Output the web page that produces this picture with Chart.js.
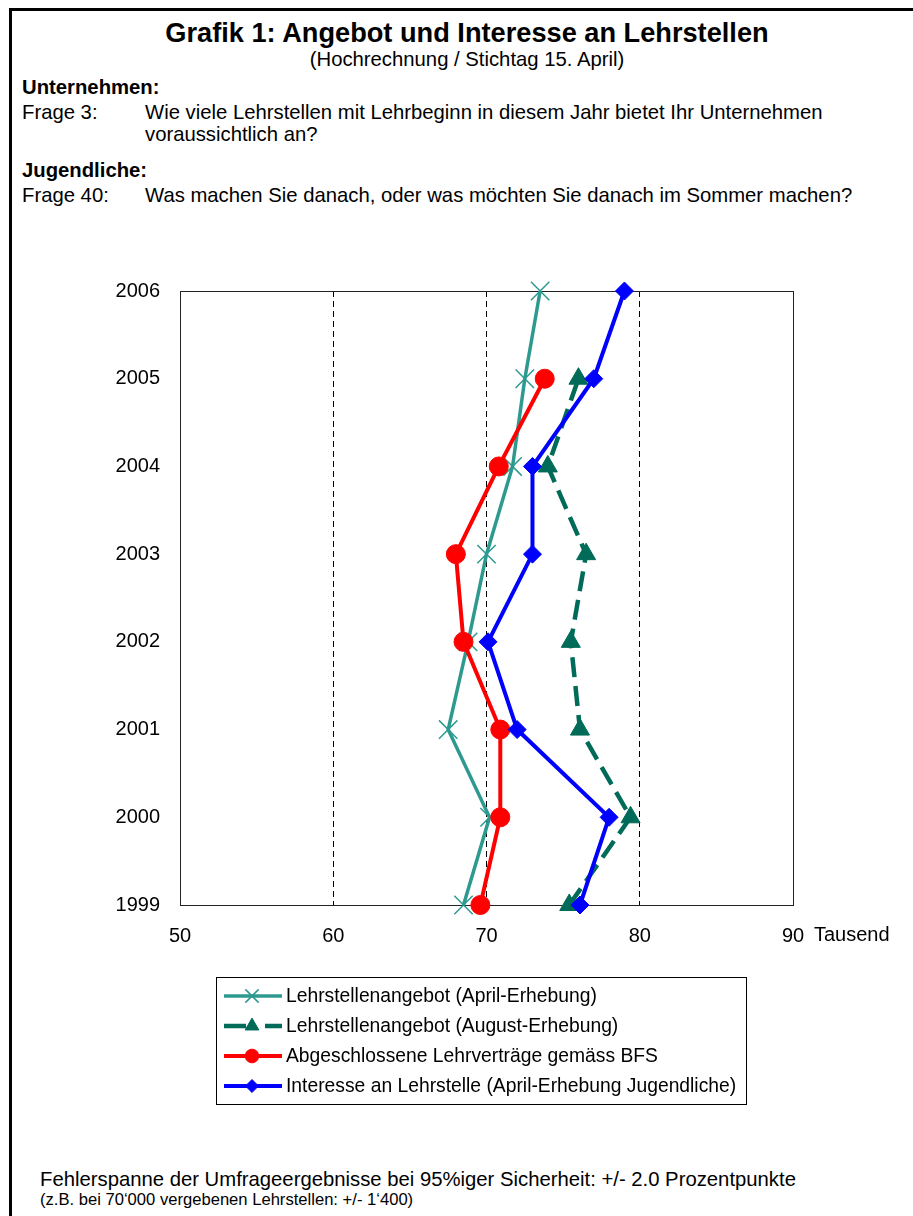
<!DOCTYPE html>
<html><head><meta charset="utf-8">
<script src="https://cdn.jsdelivr.net/npm/chart.js@4/dist/chart.umd.min.js"></script>
<style>
body{margin:0;width:913px;height:1216px;background:#fff;position:relative;overflow:hidden;font-family:"Liberation Sans",Arial,sans-serif;color:#000}
.t{position:absolute;white-space:nowrap;line-height:1.15}
#wrap{position:absolute;left:0;top:250px;width:913px;height:880px}
</style></head><body>
<div style="position:absolute;left:9px;top:8px;width:1000px;height:1300px;border-top:3px solid #000;border-left:3px solid #000"></div>
<div class="t" style="left:10px;width:914px;text-align:center;top:17px;font-size:27.2px;font-weight:bold">Grafik 1: Angebot und Interesse an Lehrstellen</div>
<div class="t" style="left:10px;width:914px;text-align:center;top:48px;font-size:20.3px">(Hochrechnung / Stichtag 15. April)</div>
<div class="t" style="left:22px;top:76px;font-size:20.3px;font-weight:bold">Unternehmen:</div>
<div class="t" style="left:22px;top:101px;font-size:20.3px">Frage 3:</div>
<div class="t" style="left:145px;top:101px;font-size:20.3px">Wie viele Lehrstellen mit Lehrbeginn in diesem Jahr bietet Ihr Unternehmen</div>
<div class="t" style="left:145px;top:123px;font-size:20.3px">voraussichtlich an?</div>
<div class="t" style="left:22px;top:159px;font-size:20.3px;font-weight:bold">Jugendliche:</div>
<div class="t" style="left:22px;top:184px;font-size:20.3px">Frage 40:</div>
<div class="t" style="left:145px;top:184px;font-size:20.3px">Was machen Sie danach, oder was möchten Sie danach im Sommer machen?</div>
<div id="wrap"><canvas id="c" width="913" height="880"></canvas></div>
<div class="t" id="unit" style="left:814px;top:923px;font-size:20px"></div>
<div class="t" style="left:40px;top:1168px;font-size:20.3px">Fehlerspanne der Umfrageergebnisse bei 95%iger Sicherheit: +/- 2.0 Prozentpunkte</div>
<div class="t" style="left:40px;top:1190px;font-size:16.6px">(z.B. bei 70‘000 vergebenen Lehrstellen: +/- 1‘400)</div>
<script>
const years = [1999, 2000, 2001, 2002, 2003, 2004, 2005, 2006];
const aprilOffer = [68.5, 70.2, 67.5, 68.8, 70.0, 71.7, 72.5, 73.5];
const augustOffer = [75.4, 79.4, 76.1, 75.5, 76.5, 74.0, 76.0, null];
const bfsContracts = [69.6, 70.9, 70.9, 68.5, 68.0, 70.8, 73.8, null];
const interest = [76.1, 78.0, 72.0, 70.1, 73.0, 73.0, 77.0, 79.0];
const xTicks = [50, 60, 70, 80, 90];
const xUnit = 'Tausend';
const seriesNames = [
  'Lehrstellenangebot (April-Erhebung)',
  'Lehrstellenangebot (August-Erhebung)',
  'Abgeschlossene Lehrverträge gemäss BFS',
  'Interesse an Lehrstelle (April-Erhebung Jugendliche)'
];

document.getElementById('unit').textContent = xUnit;
const pts = arr => years.map((y, i) => ({x: arr[i], y: y})).filter(p => p.x !== null);

const FONT = "'Liberation Sans', Arial, sans-serif";
Chart.defaults.font.family = FONT;
Chart.defaults.color = '#000';

const frame = {
  id: 'frame',
  beforeDatasetsDraw(chart) {
    const a = chart.chartArea, ctx = chart.ctx;
    ctx.save();
    ctx.strokeStyle = '#222';
    ctx.lineWidth = 1;
    ctx.strokeRect(Math.round(a.left) + 0.5, Math.round(a.top) + 0.5, Math.round(a.right - a.left), Math.round(a.bottom - a.top));
    ctx.restore();
  }
};

const legendBox = {
  id: 'legendBox',
  afterDraw(chart) {
    const ctx = chart.ctx;
    ctx.save();
    ctx.strokeStyle = '#000';
    ctx.lineWidth = 1;
    ctx.strokeRect(216.5, 727.5, 530, 127);
    const rows = [746, 776, 806, 836];
    chart.data.datasets.forEach((ds, i) => {
      const y = rows[i];
      ctx.save();
      ctx.strokeStyle = ds.borderColor;
      ctx.lineWidth = ds.borderWidth;
      ctx.setLineDash(ds.legendDash || []);
      ctx.beginPath();
      ctx.moveTo(224, y);
      ctx.lineTo(282, y);
      ctx.stroke();
      ctx.setLineDash([]);
      ctx.fillStyle = ds.pointBackgroundColor;
      ctx.strokeStyle = ds.pointBorderColor;
      ctx.lineWidth = ds.pointBorderWidth;
      Chart.helpers.drawPoint(ctx, {pointStyle: ds.pointStyle, radius: ds.pointRadius * 0.72, rotation: 0, borderWidth: ds.pointBorderWidth}, 252, y);
      ctx.restore();
      ctx.fillStyle = '#000';
      ctx.font = '19.3px ' + FONT;
      ctx.textBaseline = 'middle';
      ctx.textAlign = 'left';
      ctx.fillText(ds.label, 286, y + 1);
    });
    ctx.restore();
  }
};

const teal = '#2e9a8f', green = '#006b58';
new Chart(document.getElementById('c'), {
  type: 'scatter',
  data: {
    datasets: [
      {label: seriesNames[0], data: pts(aprilOffer), showLine: true, borderColor: teal, borderWidth: 3.5,
       pointStyle: 'crossRot', pointRadius: 13, pointBorderColor: teal, pointBackgroundColor: teal, pointBorderWidth: 1.5, order: 3, clip: false},
      {label: seriesNames[1], data: pts(augustOffer), showLine: true, borderColor: green, borderWidth: 4.5, borderDash: [20, 9], legendDash: [22, 19],
       pointStyle: 'triangle', pointRadius: 11, pointBorderColor: green, pointBackgroundColor: green, pointBorderWidth: 1, order: 2, clip: false},
      {label: seriesNames[2], data: pts(bfsContracts), showLine: true, borderColor: '#ff0000', borderWidth: 4,
       pointStyle: 'circle', pointRadius: 9.5, pointBorderColor: '#ff0000', pointBackgroundColor: '#ff0000', pointBorderWidth: 1, order: 1, clip: false},
      {label: seriesNames[3], data: pts(interest), showLine: true, borderColor: '#0000ff', borderWidth: 4,
       pointStyle: 'rectRot', pointRadius: 9, pointBorderColor: '#0000ff', pointBackgroundColor: '#0000ff', pointBorderWidth: 1, order: 0, clip: false}
    ]
  },
  options: {
    responsive: false,
    animation: false,
    events: [],
    layout: {padding: {left: 0, right: 120, top: 41, bottom: 180}},
    plugins: {legend: {display: false}, tooltip: {enabled: false}},
    scales: {
      x: {
        type: 'linear', min: xTicks[0], max: xTicks[xTicks.length - 1],
        afterBuildTicks: s => { s.ticks = xTicks.map(v => ({value: v})); },
        afterFit: s => { s.height = 45; },
        ticks: {font: {size: 20}, padding: 19, color: '#000', callback: v => String(v)},
        grid: {drawTicks: false, lineWidth: 1, color: c => (c.tick && (c.tick.value === 50 || c.tick.value === 90)) ? 'rgba(0,0,0,0)' : '#000',
               borderDash: [6, 4]},
        border: {display: false, dash: [6, 4]}
      },
      y: {
        type: 'linear', min: years[0], max: years[years.length - 1],
        afterBuildTicks: s => { s.ticks = years.map(v => ({value: v})); },
        afterFit: s => { s.width = 180; },
        ticks: {font: {size: 20}, padding: 20, color: '#000', callback: v => String(v)},
        grid: {display: false, drawTicks: false},
        border: {display: false}
      }
    }
  },
  plugins: [frame, legendBox]
});
</script>
</body></html>
